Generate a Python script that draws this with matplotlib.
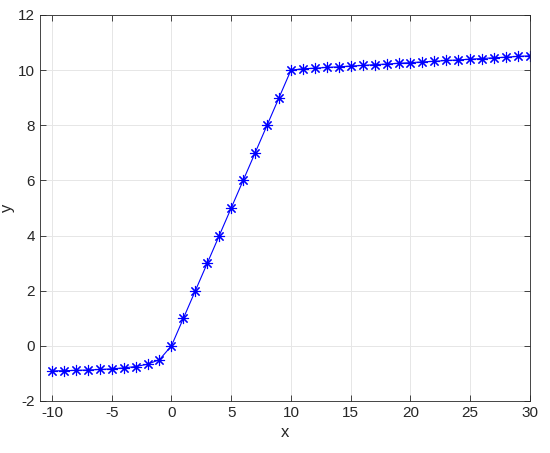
import matplotlib
matplotlib.use('Agg')
import matplotlib.pyplot as plt

# data
x = list(range(-10, 31))
y_neg = [-0.909, -0.9, -0.889, -0.875, -0.857, -0.833, -0.8, -0.75, -0.667, -0.5]
y_mid = [0, 1, 2, 3, 4, 5, 6, 7, 8, 9, 10]
y_high = [10.05, 10.07, 10.1, 10.12, 10.15, 10.17, 10.2, 10.22, 10.25, 10.27,
          10.3, 10.32, 10.35, 10.37, 10.4, 10.42, 10.45, 10.47, 10.5, 10.52]
y = y_neg + y_mid + y_high

plt.rcParams['font.family'] = ['Liberation Sans', 'DejaVu Sans']
plt.rcParams['axes.unicode_minus'] = False

fig = plt.figure(figsize=(5.5, 4.53), dpi=100)
ax = fig.add_axes([0.0727, 0.1148, 0.8909, 0.8521])

# matlab-like asterisk marker
ax.plot(x, y, color='#0000ff', linewidth=0.8, marker=(8, 2, 0), markersize=8,
        markeredgewidth=0.8)

ax.set_xlim(-11, 30)
ax.set_ylim(-2, 12)
ax.set_xticks(range(-10, 31, 5))
ax.set_yticks(range(-2, 13, 2))
ax.grid(True, color='#e6e6e6', linewidth=0.7)
ax.set_axisbelow(True)
ax.tick_params(direction='in', length=4, width=0.6, colors='#262626',
               labelsize=11, top=True, right=True, labeltop=False, labelright=False)
for s in ax.spines.values():
    s.set_color('#262626')
    s.set_linewidth(0.6)

ax.set_xlabel('x', fontsize=12, color='#262626')
ax.set_ylabel('y', fontsize=12, color='#262626', labelpad=2)

fig.savefig('out.png', dpi=100)
